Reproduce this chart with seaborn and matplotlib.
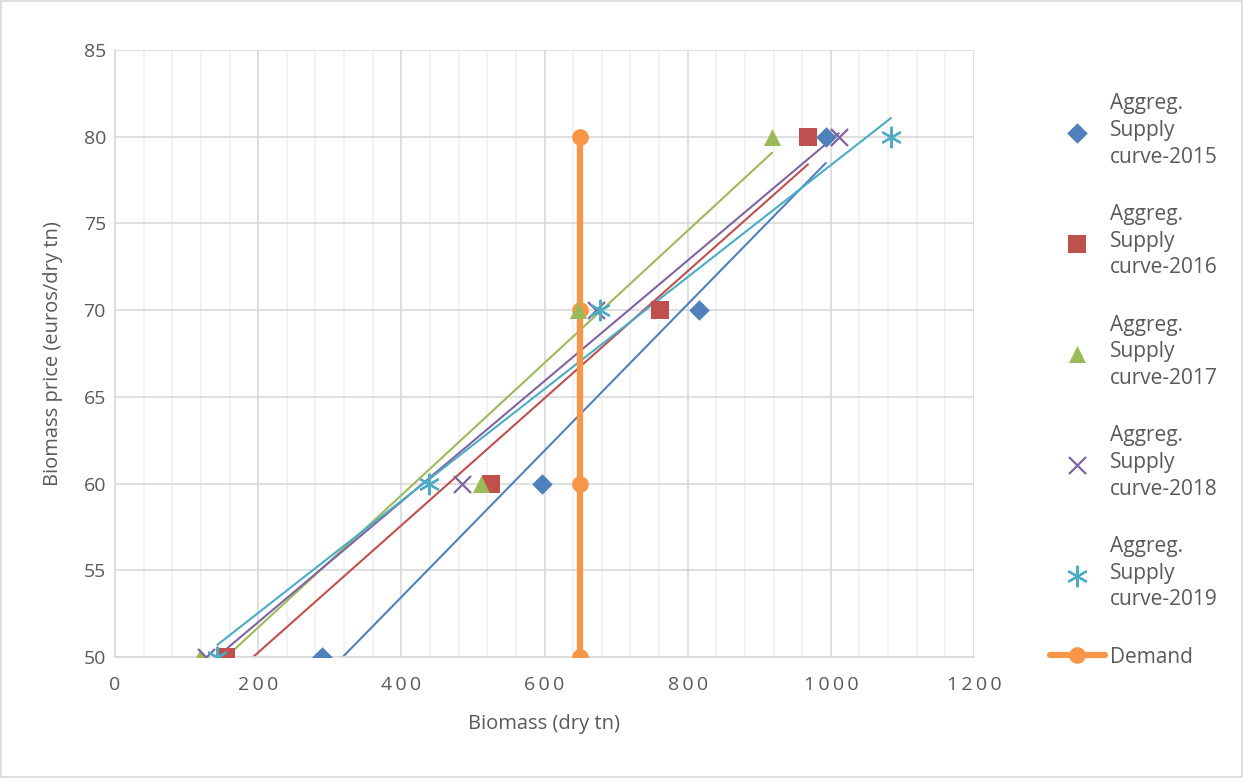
import matplotlib
matplotlib.use("Agg")
import matplotlib.pyplot as plt
import seaborn as sns
import numpy as np
from matplotlib.ticker import MultipleLocator
from matplotlib.patches import Rectangle

sns.set_theme(style="white")
plt.rcParams['font.family'] = ['Open Sans', 'DejaVu Sans']

price = [50, 60, 70, 80]
supply_2015 = [289, 596, 816, 993]
supply_2016 = [155, 525, 761, 968]
supply_2017 = [119, 511, 647, 918]
supply_2018 = [127, 485, 672, 1011]
supply_2019 = [143, 439, 678, 1084]
demand_x = [650, 650, 650, 650]
demand_y = [50, 60, 70, 80]
x_ticks = [0, 200, 400, 600, 800, 1000, 1200]
y_ticks = [50, 55, 60, 65, 70, 75, 80, 85]

series_labels = ["Aggreg.\nSupply\ncurve-2015", "Aggreg.\nSupply\ncurve-2016",
                 "Aggreg.\nSupply\ncurve-2017", "Aggreg.\nSupply\ncurve-2018",
                 "Aggreg.\nSupply\ncurve-2019"]
colors = ["#4F81BD", "#C0504D", "#9BBB59", "#8064A2", "#4BACC6"]
markers = ["D", "s", "^", "x", (6, 2, 0)]
sizes = [110, 150, 150, 150, 200]
supplies = [supply_2015, supply_2016, supply_2017, supply_2018, supply_2019]

fig = plt.figure(figsize=(12.43, 7.78), dpi=100)
ax = fig.add_axes([115/1243, 1-657/778, (974-115)/1243, (657-50)/778])

for xs, c in zip(supplies, colors):
    sns.regplot(x=np.array(xs), y=np.array(price), ax=ax, scatter=False, ci=None,
                truncate=True, color=c, line_kws=dict(lw=1.5, zorder=2))
for xs, lab, c, m, s in zip(supplies, series_labels, colors, markers, sizes):
    filled = m in ("D", "s", "^")
    ax.scatter(xs, price, marker=m, s=s, color=c, label=lab, zorder=4,
               linewidths=0 if filled else 1.6)

sns.lineplot(x=demand_x, y=demand_y, orient="y", estimator=None, sort=False, ax=ax,
             color="#F79646", lw=4.5, marker="o", markersize=12, markeredgewidth=0,
             label="Demand", zorder=3)

ax.set_xlim(0, 1200)
ax.set_ylim(50, 85)
ax.set_xticks(x_ticks)
ax.set_yticks(y_ticks)
ax.xaxis.set_minor_locator(MultipleLocator(40))
ax.grid(which="major", axis="both", color="#D9D9D9", lw=1.2, zorder=0)
ax.grid(which="minor", axis="x", color="#F0F0F0", lw=1.2, zorder=0)
ax.set_axisbelow(True)
for sp in ax.spines.values():
    sp.set_visible(False)
for side in ("left", "bottom"):
    ax.spines[side].set_visible(True)
    ax.spines[side].set_color("#D9D9D9")
    ax.spines[side].set_linewidth(1.2)
ax.tick_params(axis="both", which="major", length=5, width=1.2, color="#D9D9D9",
               labelsize=14, labelcolor="#595959")
ax.tick_params(axis="x", which="major", pad=9)
ax.tick_params(axis="y", which="major", pad=1.5)
ax.tick_params(axis="x", which="minor", length=0)
ax.set_xticklabels(["\u2009".join(str(v)) for v in x_ticks])
ax.set_yticklabels([str(v) for v in y_ticks])
ax.set_xlabel("Biomass (dry tn)", fontsize=14.5, color="#595959", labelpad=14)
ax.set_ylabel("Biomass price (euros/dry tn)", fontsize=14.5, color="#595959", labelpad=15)

handles, labels = ax.get_legend_handles_labels()
leg = ax.legend(handles, labels, loc="upper left", bbox_to_anchor=(1042/1243, 1-85/778),
                bbox_transform=fig.transFigure, frameon=False, fontsize=15,
                labelspacing=1.75, handletextpad=0.25, handlelength=2.6, borderaxespad=0)
for t in leg.get_texts():
    t.set_color("#595959")
    t.set_linespacing(1.35)

fig.patches.append(Rectangle((0.0008, 0.001), 0.9984, 0.998, transform=fig.transFigure,
                             fill=False, edgecolor="#D9D9D9", lw=1.2))
fig.savefig("out.png", dpi=100, facecolor="white")
